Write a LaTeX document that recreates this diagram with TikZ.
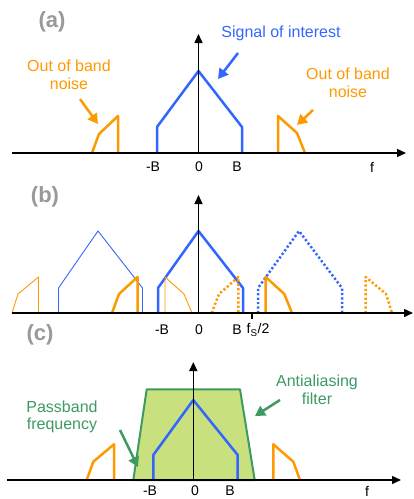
\documentclass[tikz,border=0pt]{standalone}
\usepackage{fontspec}
\setmainfont{Liberation Sans}
\usetikzlibrary{arrows.meta}
\definecolor{sigblue}{HTML}{3366FF}
\definecolor{noiseorange}{HTML}{FF9900}
\definecolor{panelgray}{HTML}{999999}
\definecolor{filtgreen}{HTML}{3C9A62}
\definecolor{filtfill}{HTML}{C8E07E}

\begin{document}
\begin{tikzpicture}[x=1pt, y=-1pt, >={Triangle[length=9pt, width=8pt]}, line join=round,
  every node/.style={inner sep=0pt},
  axis/.style={line width=1.4pt, ->},
  fsig/.style={sigblue, line width=2.5pt},
  fnoise/.style={noiseorange, line width=2.5pt},
  thinline/.style={line width=0.9pt},
  dotline/.style={dash pattern=on 2.2pt off 2.2pt},
  pointer/.style={line width=2.5pt, -{Triangle[length=10pt, width=11pt]}},
  panel/.style={font=\fontsize{22}{24}\selectfont\bfseries, text=panelgray},
  tick/.style={font=\fontsize{14}{16}\selectfont},
  note/.style={font=\fontsize{16}{17.5}\selectfont, align=center}]
  \useasboundingbox (0,0) rectangle (414,499);

  % (a) original spectrum
  \node[panel] (lbla) at (52,22) {(a)};
  \draw[fsig] (157,153) -- (157,127) -- (198.5,71) -- (242,127) -- (242,153);
  \draw[fnoise] (92,153) -- (99,134) -- (118,116) -- (118,153);
  \draw[fnoise] (278,153) -- (278,116) -- (297,133) -- (305,153);
  \coordinate (a-o) at (198.5,153);
  \coordinate (a-x) at (406,153);
  \coordinate (a-y) at (198.5,34);
  \draw[axis] (12,153) -- (a-x);
  \draw[axis] (a-o) -- (a-y);
  \node[tick] (a-mb) at (153,167) {-B};
  \node[tick] (a-zero) at (199,167) {0};
  \node[tick] (a-b) at (237,167) {B};
  \node[tick] (a-f) at (372,167) {f};
  \node[note, text=sigblue] (sig) at (281,33) {Signal of interest};
  \node[note, text=noiseorange] (noisel) at (69,75) {Out of band\\noise};
  \node[note, text=noiseorange] (noiser) at (348,83) {Out of band\\noise};
  \coordinate (sig-tail) at (238,53);
  \coordinate (sig-tip) at (218,79);
  \coordinate (noisel-tail) at (80,99);
  \coordinate (noisel-tip) at (98,124);
  \coordinate (noiser-tail) at (313,110);
  \coordinate (noiser-tip) at (297,125);
  \draw[pointer, sigblue] (sig-tail) -- (sig-tip);
  \draw[pointer, noiseorange] (noisel-tail) -- (noisel-tip);
  \draw[pointer, noiseorange] (noiser-tail) -- (noiser-tip);

  % (b) sampled spectrum with aliases
  \node[panel] (lblb) at (45,197) {(b)};
  \draw[sigblue, thinline] (58.5,313) -- (58.5,288) -- (98,231) -- (142.5,288) -- (142.5,313);
  \draw[fsig] (158,313) -- (158,288) -- (198.5,231) -- (243,288) -- (243,313);
  \draw[fsig, dotline] (258,313) -- (258,288) -- (299,231) -- (342,288) -- (342,313);
  \draw[noiseorange, thinline] (12,313) -- (18,294) -- (38.5,277) -- (38.5,313);
  \draw[noiseorange, thinline] (165,313) -- (165,277) -- (184,294) -- (192,313);
  \draw[fnoise] (112,313) -- (119,294) -- (137.5,277) -- (137.5,313);
  \draw[fnoise] (265.7,313) -- (265.7,277) -- (284.3,294) -- (292,313);
  \draw[fnoise, dotline] (211.7,313) -- (219,294) -- (238.3,277) -- (238.3,313);
  \draw[fnoise, dotline] (365.7,313) -- (365.7,277) -- (386,294) -- (392,313);
  \coordinate (b-o) at (198.5,313);
  \coordinate (b-x) at (413,313);
  \coordinate (b-y) at (198.5,195);
  \coordinate (b-fs) at (252,313);
  \draw[axis] (12,313) -- (b-x);
  \draw[axis] (b-o) -- (b-y);
  \draw[line width=1.4pt] (b-fs) -- ++(0,6);
  \node[tick] (b-mb) at (162,330) {-B};
  \node[tick] (b-zero) at (199,330) {0};
  \node[tick] (b-b) at (237,330) {B};
  \node[tick] (b-fs2) at (258,330) {f\textsubscript{S}/2};

  % (c) antialiasing filter
  \node[panel] (lblc) at (40,335) {(c)};
  \filldraw[fill=filtfill, draw=filtgreen, line width=2pt] (133.3,480) -- (146.7,389.3) -- (240,389.3) -- (254.7,480) -- cycle;
  \draw[fsig] (153.3,480) -- (153.3,455) -- (193.3,400) -- (237.7,455) -- (237.7,480);
  \draw[fnoise] (86.7,480) -- (93.3,461.7) -- (114,444.3) -- (114,480);
  \draw[fnoise] (273.3,480) -- (273.3,444.3) -- (293.3,461.7) -- (300,480);
  \coordinate (c-o) at (193.3,480);
  \coordinate (c-x) at (401,480);
  \coordinate (c-y) at (193.3,362);
  \draw[axis] (7,480) -- (c-x);
  \draw[axis] (c-o) -- (c-y);
  \node[tick] (c-mb) at (150,491) {-B};
  \node[tick] (c-zero) at (195,491) {0};
  \node[tick] (c-b) at (230,491) {B};
  \node[tick] (c-f) at (367,491) {f};
  \node[note, text=filtgreen] (aaf) at (317,390) {Antialiasing\\filter};
  \node[note, text=filtgreen] (pbf) at (62,417) {Passband\\frequency};
  \coordinate (aaf-tail) at (280,400);
  \coordinate (aaf-tip) at (255,416);
  \coordinate (pbf-tail) at (120,430);
  \coordinate (pbf-tip) at (138,467);
  \draw[pointer, filtgreen] (aaf-tail) -- (aaf-tip);
  \draw[pointer, filtgreen] (pbf-tail) -- (pbf-tip);
\end{tikzpicture}
\end{document}
